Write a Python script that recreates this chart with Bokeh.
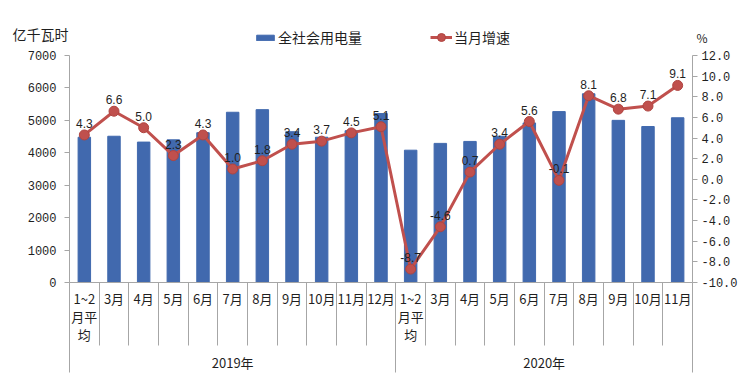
from bokeh.plotting import figure
from bokeh.models import (Range1d, LinearAxis, FixedTicker, ColumnDataSource, LabelSet,
                          Label, Legend, LegendItem, PrintfTickFormatter)
from bokeh.embed import file_html
from bokeh.resources import INLINE
from bokeh.core.properties import value

# ---------------- data ----------------
categories = ["1~2\n月平\n均", "3月", "4月", "5月", "6月", "7月", "8月", "9月", "10月", "11月", "12月",
              "1~2\n月平\n均", "3月", "4月", "5月", "6月", "7月", "8月", "9月", "10月", "11月"]
years = ["2019年", "2020年"]
year_sizes = [11, 10]
consumption = [4480, 4510, 4330, 4400, 4620, 5250, 5330, 4650, 4480, 4680, 5210,
               4080, 4290, 4350, 4510, 4920, 5270, 5820, 5000, 4810, 5080]
growth = [4.3, 6.6, 5.0, 2.3, 4.3, 1.0, 1.8, 3.4, 3.7, 4.5, 5.1,
          -8.7, -4.6, 0.7, 3.4, 5.6, -0.1, 8.1, 6.8, 7.1, 9.1]
left_ticks = [0, 1000, 2000, 3000, 4000, 5000, 6000, 7000]
right_ticks = [-10, -8, -6, -4, -2, 0, 2, 4, 6, 8, 10, 12]
bar_name = "全社会用电量"
line_name = "当月增速"
left_unit = "亿千瓦时"
right_unit = "%"

# ---------------- layout (pixels) ----------------
W, H = 750, 379
PX_L, PX_R, PY_T, PY_B = 69, 692, 55, 282
CAT_Y, CAT_LH, YEAR_Y = 298, 18, 362

n = len(categories)
cw = (PX_R - PX_L) / n
L0, L1 = left_ticks[0], left_ticks[-1]
R0, R1 = right_ticks[0], right_ticks[-1]


def xd(px):
    return (px - PX_L) / cw


def yd(py):
    return L0 + (PY_B - py) * (L1 - L0) / (PY_B - PY_T)


def pd(py):
    return R0 + (PY_B - py) * (R1 - R0) / (PY_B - PY_T)


xs = [i + 0.5 for i in range(n)]
bounds = [0]
for s in year_sizes:
    bounds.append(bounds[-1] + s)
year_centers = [(bounds[i] + bounds[i + 1]) / 2 for i in range(len(years))]
minor = [i for i in range(1, n) if i not in bounds]

src = ColumnDataSource(dict(x=xs, cons=consumption, g=growth,
                            glabel=["%.1f" % v for v in growth]))
# one row per text line of each category label, each line centred
cx, cy, ct = [], [], []
for x, c in zip(xs, categories):
    for k, part in enumerate(c.split("\n")):
        cx.append(x)
        cy.append(yd(CAT_Y + k * CAT_LH))
        ct.append(part)
csrc = ColumnDataSource(dict(x=cx, y=cy, t=ct))
ysrc = ColumnDataSource(dict(x=year_centers, year=years))

CJK = "Noto Sans CJK SC"
MONO = "Liberation Mono"
AX = "#a6a6a6"
TXT = "#1f1f1f"
BLUE = "#4169ae"
RED = "#c0504d"

p = figure(width=W, height=H, x_range=Range1d(xd(0), xd(W)), y_range=Range1d(yd(H), yd(0)),
           output_backend="svg", toolbar_location=None, x_axis_type=None, y_axis_type=None,
           min_border=0, min_border_left=0, min_border_right=0, min_border_top=0, min_border_bottom=0)
p.outline_line_color = None
p.extra_y_ranges = {"pct": Range1d(pd(H), pd(0))}

# axes
la = LinearAxis(ticker=FixedTicker(ticks=left_ticks), fixed_location=bounds[0], bounds=(L0, L1))
la.axis_line_color = AX
la.major_tick_line_color = AX
la.major_tick_in = 0
la.major_tick_out = 5
la.minor_tick_line_color = None
la.major_label_text_font = MONO
la.major_label_text_font_size = "12px"
la.major_label_text_color = TXT
la.major_label_standoff = 8
p.add_layout(la, "left")

ra = LinearAxis(y_range_name="pct", ticker=FixedTicker(ticks=right_ticks),
                formatter=PrintfTickFormatter(format="%.1f"),
                fixed_location=bounds[-1], bounds=(R0, R1))
ra.axis_line_color = AX
ra.major_tick_line_color = AX
ra.major_tick_in = 0
ra.major_tick_out = 5
ra.minor_tick_line_color = None
ra.major_label_text_font = MONO
ra.major_label_text_font_size = "12px"
ra.major_label_text_color = TXT
ra.major_label_standoff = 4
p.add_layout(ra, "right")

ba = LinearAxis(ticker=FixedTicker(ticks=bounds, minor_ticks=minor), fixed_location=L0,
                bounds=(bounds[0], bounds[-1]))
ba.axis_line_color = AX
ba.major_tick_line_color = AX
ba.minor_tick_line_color = AX
ba.major_tick_in = 0
ba.major_tick_out = 90
ba.minor_tick_in = 0
ba.minor_tick_out = 63
ba.major_label_overrides = {b: "" for b in bounds}
ba.major_label_text_font_size = "0px"
ba.major_label_standoff = 0
p.add_layout(ba, "below")

# glyphs
bars = p.vbar(x="x", top="cons", bottom=L0, width=0.42, source=src, fill_color=BLUE, line_color=BLUE)
ln = p.line(x="x", y="g", source=src, y_range_name="pct", line_color=RED, line_width=3)
sc = p.scatter(x="x", y="g", source=src, y_range_name="pct", size=10,
               fill_color=RED, line_color="#b04440")

# data labels
p.add_layout(LabelSet(x="x", y="g", text="glabel", source=src, y_range_name="pct",
                      y_offset=7, text_align="center", text_baseline="bottom",
                      text_font=value("Liberation Sans"), text_font_size="12px", text_color=TXT))

# category labels
p.text(x="x", y="y", text="t", source=csrc, text_align="center", text_baseline="middle",
       text_font=value(CJK), text_font_size="13px", text_color=TXT)
p.text(x="x", y=yd(YEAR_Y), text="year", source=ysrc, text_align="center", text_baseline="middle",
       text_font=value(CJK), text_font_size="13px", text_color=TXT)

# unit labels
p.add_layout(Label(x=xd(12), y=yd(33), text=left_unit, text_baseline="middle",
                   text_font=CJK, text_font_size="14px", text_color=TXT))
p.add_layout(Label(x=xd(696), y=yd(37), text=right_unit, text_baseline="middle",
                   text_font=CJK, text_font_size="12px", text_color=TXT))

common = dict(orientation="horizontal", glyph_width=22, label_standoff=2, padding=0, margin=0,
              label_height=20, border_line_color=None, background_fill_alpha=0,
              label_text_font=CJK, label_text_font_size="14px", label_text_color=TXT)
leg1 = Legend(items=[LegendItem(label=bar_name, renderers=[bars])],
              location=(254, H - 47), glyph_height=7, **common)
leg2 = Legend(items=[LegendItem(label=line_name, renderers=[ln, sc])],
              location=(430, H - 47), glyph_height=20, **common)
p.add_layout(leg1, "center")
p.add_layout(leg2, "center")

open("out.html", "w").write(file_html(p, INLINE))
